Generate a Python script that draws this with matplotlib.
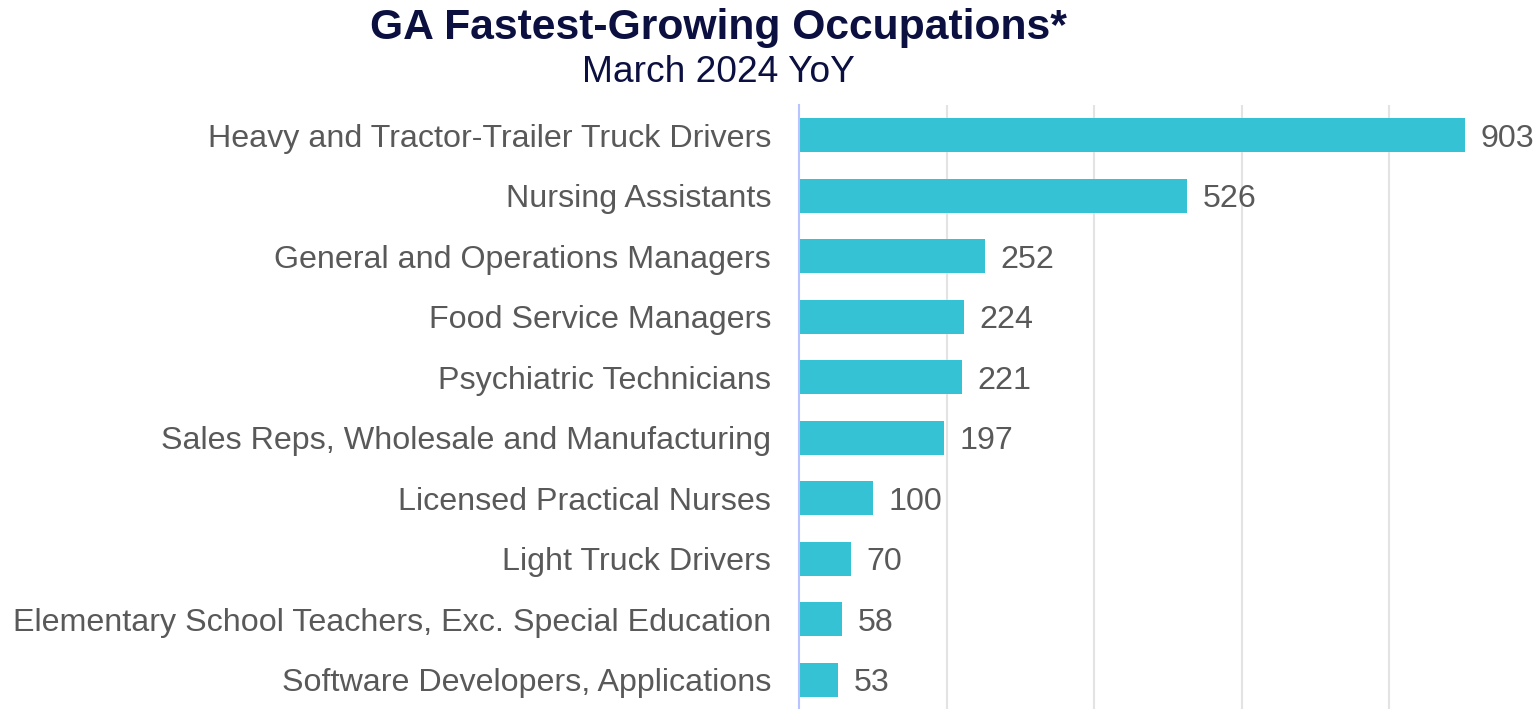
import matplotlib
matplotlib.use("Agg")
import matplotlib.pyplot as plt

categories = [
    "Heavy and Tractor-Trailer Truck Drivers",
    "Nursing Assistants",
    "General and Operations Managers",
    "Food Service Managers",
    "Psychiatric Technicians",
    "Sales Reps, Wholesale and Manufacturing",
    "Licensed Practical Nurses",
    "Light Truck Drivers",
    "Elementary School Teachers, Exc. Special Education",
    "Software Developers, Applications",
]
values = [903, 526, 252, 224, 221, 197, 100, 70, 58, 53]
title = "GA Fastest-Growing Occupations*"
subtitle = "March 2024 YoY"

plt.rcParams['font.family'] = ['Liberation Sans', 'DejaVu Sans']

fig = plt.figure(figsize=(15.34, 7.09), dpi=100)
W, H = 1534, 709
left, right, top, bottom = 799, 1534, 105, 710
ax = fig.add_axes([left / W, 1 - bottom / H, (right - left) / W, (bottom - top) / H])

y = list(range(len(categories)))
ax.barh(y, values, height=0.56, color="#34C2D4", zorder=3)
ax.set_ylim(len(categories) - 0.5, -0.5)
ax.set_xlim(0, 996)
ax.set_xticks([200, 400, 600, 800])
ax.xaxis.grid(True, color="#E3E3E3", linewidth=1.5, zorder=0)
ax.tick_params(axis='x', length=0, labelbottom=False)
ax.tick_params(axis='y', length=0, pad=20, labelsize=23.2, labelcolor="#595959")
ax.set_yticks(y)
ax.set_yticklabels(categories)
for s in ["top", "right", "bottom"]:
    ax.spines[s].set_visible(False)
ax.spines["left"].set_color("#B8C4FF")
ax.spines["left"].set_linewidth(1.5)
ax.spines["left"].set_zorder(4)

for yi, v in zip(y, values):
    ax.text(v + 21, yi, str(v), va="center_baseline", ha="left", fontsize=23.2,
            color="#595959")

fig.text(718 / W, 1 - 28 / H, title, ha="center", va="center", fontsize=30.7,
         fontweight="bold", color="#0B1040")
fig.text(718 / W, 1 - 72 / H, subtitle, ha="center", va="center", fontsize=26.7,
         color="#0B1040")

fig.savefig("out.png", dpi=100)
